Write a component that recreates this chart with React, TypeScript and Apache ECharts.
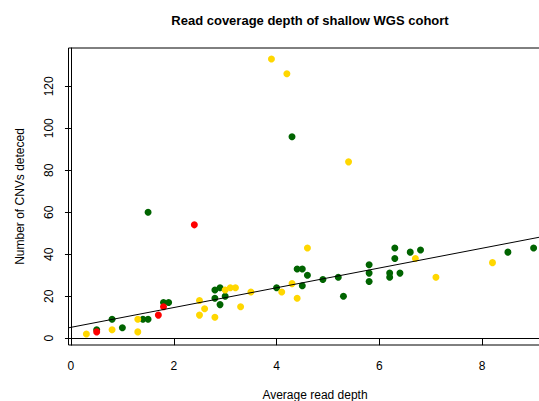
import React, { useEffect, useRef } from "react";
import * as echarts from "echarts";

const titleText = "Read coverage depth of shallow WGS cohort";
const xTitle = "Average read depth";
const yTitle = "Number of CNVs deteced";

const xTicks = [0, 2, 4, 6, 8];
const yTicks = [0, 20, 40, 60, 80, 100, 120];

const greenPts: [number, number][] = [
  [0.5, 4], [0.8, 9], [1.0, 5], [1.4, 9], [1.5, 9], [1.8, 17], [1.9, 17], [1.5, 60],
  [2.8, 23], [2.9, 24], [2.8, 19], [3.0, 20], [2.9, 16], [4.0, 24], [4.4, 33], [4.5, 33],
  [4.6, 30], [4.5, 25], [4.9, 28], [5.2, 29], [5.3, 20], [5.8, 35], [5.8, 31], [5.8, 27],
  [6.2, 31], [6.2, 29], [6.3, 43], [6.3, 38], [6.4, 31], [6.6, 41], [6.8, 42], [8.5, 41],
  [9.0, 43], [4.3, 96],
];
const yellowPts: [number, number][] = [
  [0.3, 2], [0.8, 4], [1.3, 9], [1.3, 3], [2.5, 18], [2.6, 14], [2.5, 11], [2.8, 10],
  [3.0, 23], [3.1, 24], [3.2, 24], [3.3, 15], [3.5, 22], [4.1, 22], [4.6, 43], [4.3, 26],
  [4.4, 19], [6.7, 38], [7.1, 29], [8.2, 36], [3.9, 133], [4.2, 126], [5.4, 84],
];
const redPts: [number, number][] = [[0.5, 3], [1.7, 11], [1.8, 15], [2.4, 54]];

const fitIntercept = 5.18;
const fitSlope = 4.71;

const X_MIN = -0.048;
const X_MAX = 9.348;
const Y_MIN = -3.24;
const Y_MAX = 138.24;

const FONT = "Liberation Sans, Arial, Helvetica, sans-serif";

export default function App() {
  const ref = useRef<HTMLDivElement>(null);
  useEffect(() => {
    if (!ref.current) return;
    const chart = echarts.init(ref.current, undefined, { renderer: "svg" });
    const fitLine = [X_MIN, X_MAX].map((x) => [x, fitIntercept + fitSlope * x]);
    const dot = (data: [number, number][], color: string) => ({
      type: "scatter",
      data,
      symbol: "circle",
      symbolSize: 7,
      itemStyle: { color, opacity: 1 },
    });
    chart.setOption({
      animation: false,
      backgroundColor: "#fff",
      grid: {
        left: 68.5,
        top: 48,
        right: 0.5,
        bottom: 56,
        show: true,
        borderColor: "#000",
        borderWidth: 1,
        backgroundColor: "transparent",
      },
      xAxis: {
        type: "value",
        min: X_MIN,
        max: X_MAX,
        axisLine: { show: true, lineStyle: { color: "#000", width: 1 } },
        splitLine: { show: false },
        axisTick: { show: true, customValues: xTicks, length: 7, lineStyle: { color: "#000" } },
        axisLabel: {
          customValues: xTicks,
          margin: 15,
          fontSize: 12,
          color: "#000",
          fontFamily: FONT,
        },
      },
      yAxis: {
        type: "value",
        min: Y_MIN,
        max: Y_MAX,
        axisLine: { show: true, lineStyle: { color: "#000", width: 1 } },
        splitLine: { show: false },
        axisTick: { show: true, customValues: yTicks, length: 6, lineStyle: { color: "#000" } },
        axisLabel: {
          customValues: yTicks,
          rotate: 90,
          margin: 14,
          fontSize: 12,
          color: "#000",
          fontFamily: FONT,
        },
      },
      graphic: [
        {
          type: "text",
          x: 310,
          y: 20,
          style: {
            text: titleText,
            font: `bold 13px ${FONT}`,
            fill: "#000",
            textAlign: "center",
            textVerticalAlign: "middle",
          },
        },
        {
          type: "text",
          x: 315,
          y: 395,
          style: {
            text: xTitle,
            font: `12px ${FONT}`,
            fill: "#000",
            textAlign: "center",
            textVerticalAlign: "middle",
          },
        },
        {
          type: "text",
          x: 20,
          y: 196.5,
          rotation: Math.PI / 2,
          style: {
            text: yTitle,
            font: `12px ${FONT}`,
            fill: "#000",
            textAlign: "center",
            textVerticalAlign: "middle",
          },
        },
      ],
      series: [
        dot(greenPts, "#006400"),
        dot(yellowPts, "#FFD700"),
        dot(redPts, "#FF0000"),
        {
          type: "line",
          data: fitLine,
          showSymbol: false,
          symbol: "none",
          lineStyle: { color: "#000", width: 1 },
          clip: true,
        },
      ],
    });
    return () => chart.dispose();
  }, []);
  return (
    <div style={{ position: "absolute", left: 0, top: 0, width: 539, height: 401, overflow: "hidden" }}>
      <div ref={ref} style={{ width: 552, height: 401 }} />
    </div>
  );
}
